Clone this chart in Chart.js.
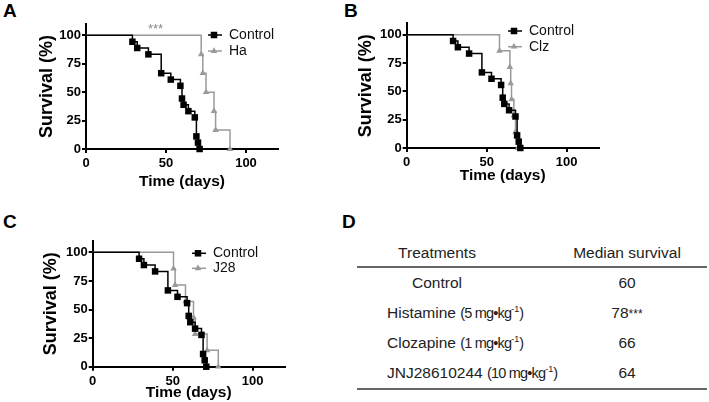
<!DOCTYPE html>
<html>
<head>
<meta charset="utf-8">
<script src="https://cdn.jsdelivr.net/npm/chart.js@4.4.0/dist/chart.umd.min.js"></script>
<style>
  body { margin: 0; width: 709px; height: 402px; background: #fff; position: relative; overflow: hidden;
         font-family: 'Liberation Sans', Arial, sans-serif; }
  .letter { position: absolute; font-weight: bold; font-size: 19px; line-height: 19px; color: #000; }
  .box { position: absolute; }
  #sig { position: absolute; left: 148px; top: 21px; font-size: 13px; color: #888; }
  #table-d { position: absolute; left: 357px; top: 240px; width: 350px; border-collapse: collapse;
             table-layout: fixed; white-space: nowrap; font-size: 15.5px; color: #222; }
  #table-d th { font-weight: normal; height: 26px; text-align: center; border-bottom: 2px solid #666; padding: 0; }
  #table-d td { height: 30px; text-align: center; padding: 0; }
  #table-d tr:last-child td { border-bottom: 2px solid #666; }
  #table-d .dose { font-size: 14.5px; letter-spacing: -0.8px; }
  #table-d sup { font-size: 9px; letter-spacing: 0; }
</style>
</head>
<body>
<div class="letter" style="left:3px; top:1px;">A</div>
<div class="letter" style="left:344px; top:1px;">B</div>
<div class="letter" style="left:3px; top:212px;">C</div>
<div class="letter" style="left:342px; top:212px;">D</div>

<div class="box" style="left:20px; top:10px; width:275px; height:185px;"><canvas id="chart-a"></canvas></div>
<div class="box" style="left:340px; top:10px; width:275px; height:180px;"><canvas id="chart-b"></canvas></div>
<div class="box" style="left:20px; top:225px; width:275px; height:177px;"><canvas id="chart-c"></canvas></div>
<div id="sig">***</div>

<table id="table-d">
  <colgroup><col style="width:160px;"><col style="width:190px;"></colgroup>
  <thead><tr><th>Treatments</th><th style="padding-left:30px;">Median survival</th></tr></thead>
  <tbody id="table-body"></tbody>
</table>

<script>
// Kaplan-Meier steps: event times (days) and survival (%) after each event
const controlTimes = [29, 32, 39, 47, 53, 59, 60, 61, 64, 68, 69, 70, 71];
const controlSurvival = [94.4, 88.9, 83.3, 66.7, 61.1, 55.6, 44.4, 38.9, 33.3, 27.8, 11.1, 5.6, 0];

const haTimes = [72, 73, 75, 80, 81, 90];
const haSurvival = [83.3, 66.7, 50, 33.3, 16.7, 0];

const clzTimes = [58, 64.5, 65, 65.5, 67, 68, 69.5];
const clzSurvival = [85.7, 71.4, 57.1, 42.9, 28.6, 14.3, 0];

const j28Times = [50.5, 51.5, 58, 63, 64, 71.5, 78.5];
const j28Survival = [85.7, 71.4, 57.1, 42.9, 28.6, 14.3, 0];

const xTickValues = [0, 50, 100];
const yTickValues = [0, 25, 50, 75, 100];

// table D
const treatmentNames = ['Control', 'Histamine', 'Clozapine', 'JNJ28610244'];
const treatmentDoses = ['', '5', '1', '10'];
const medianSurvival = ['60', '78', '66', '64'];
const medianSignificance = ['', '***', '', ''];

Chart.defaults.font.family = "'Liberation Sans', Arial, sans-serif";
Chart.defaults.color = '#000';

function kmPoints(times, values) {
    return [{ x: 0, y: 100 }].concat(times.map((t, i) => ({ x: t, y: values[i] })));
}

function drawMarker(ctx, style, r, x, y) {
    ctx.beginPath();
    if (style === 'rect') {
        const s = Math.SQRT1_2 * r;
        ctx.rect(x - s, y - s, 2 * s, 2 * s);
    } else {
        ctx.moveTo(x, y - r);
        ctx.lineTo(x + r * 0.866, y + r * 0.5);
        ctx.lineTo(x - r * 0.866, y + r * 0.5);
        ctx.closePath();
    }
    ctx.fill();
}

// legend drawn inside the plot, GraphPad style (line + marker + label)
const inlineLegend = {
    id: 'inlineLegend',
    afterDatasetsDraw(chart, args, opts) {
        const ctx = chart.ctx;
        ctx.save();
        ctx.font = "14px 'Liberation Sans', Arial, sans-serif";
        ctx.textBaseline = 'middle';
        chart.data.datasets.forEach((ds, i) => {
            const y = opts.y + i * opts.gap;
            ctx.strokeStyle = ds.borderColor;
            ctx.lineWidth = ds.borderWidth;
            ctx.beginPath();
            ctx.moveTo(opts.x, y);
            ctx.lineTo(opts.x + 14, y);
            ctx.stroke();
            ctx.fillStyle = ds.borderColor;
            drawMarker(ctx, ds.pointStyle, ds.markerSize, opts.x + 6, y);
            ctx.fillStyle = '#111';
            ctx.fillText(ds.label, opts.x + 21, y);
        });
        ctx.restore();
    }
};

function survivalDataset(label, times, values, color, style, size) {
    return {
        label: label,
        data: kmPoints(times, values),
        borderColor: color,
        backgroundColor: color,
        borderWidth: 1.5,
        stepped: true,
        pointStyle: style,
        markerSize: size,
        pointRadius: ctx => ctx.dataIndex === 0 ? 0 : size,
        pointBorderWidth: 0,
        clip: false
    };
}

function makeSurvivalChart(id, treatLabel, treatTimes, treatValues, layout) {
    const ctx = document.getElementById(id).getContext('2d');
    return new Chart(ctx, {
        type: 'line',
        data: {
            datasets: [
                survivalDataset('Control', controlTimes, controlSurvival, '#000', 'rect', 4.6),
                survivalDataset(treatLabel, treatTimes, treatValues, '#9a9a9a', 'triangle', 3.8)
            ]
        },
        options: {
            responsive: true,
            maintainAspectRatio: false,
            animation: false,
            layout: { padding: { top: layout.padTop, right: layout.padRight, left: 0, bottom: 0 } },
            plugins: {
                legend: { display: false },
                tooltip: { enabled: false },
                inlineLegend: layout.legend
            },
            scales: {
                x: {
                    type: 'linear',
                    min: 0,
                    max: 120,
                    afterBuildTicks: scale => {
                        scale.ticks = xTickValues.map(v => ({ value: v }));
                    },
                    afterFit: scale => { scale.height = layout.xHeight; },
                    grid: { drawOnChartArea: false, color: '#000', lineWidth: 2, tickLength: 4 },
                    border: { color: '#000', width: 2 },
                    ticks: { font: { size: 13, weight: 'bold' }, padding: 2.5, maxRotation: 0 },
                    title: {
                        display: true,
                        text: 'Time (days)',
                        font: { size: 15.5, weight: 'bold' },
                        padding: { top: 0, bottom: layout.xTitlePad }
                    }
                },
                y: {
                    min: 0,
                    max: 110,
                    afterBuildTicks: scale => {
                        scale.ticks = yTickValues.map(v => ({ value: v }));
                    },
                    afterFit: scale => { scale.width = layout.yWidth; },
                    grid: { drawOnChartArea: false, color: '#000', lineWidth: 2, tickLength: 4 },
                    border: { color: '#000', width: 2 },
                    ticks: { font: { size: 13, weight: 'bold' }, padding: 1 },
                    title: {
                        display: true,
                        text: 'Survival (%)',
                        font: { size: 18, weight: 'bold' },
                        padding: { top: layout.yTitlePad, bottom: 0 }
                    }
                }
            }
        },
        plugins: [inlineLegend]
    });
}

makeSurvivalChart('chart-a', 'Ha', haTimes, haSurvival, {
    padTop: 14, padRight: 17, xHeight: 46, yWidth: 66, xTitlePad: 4, yTitlePad: 16,
    legend: { x: 188, y: 25, gap: 16 }
});
makeSurvivalChart('chart-b', 'Clz', clzTimes, clzSurvival, {
    padTop: 13.3, padRight: 16.3, xHeight: 42, yWidth: 66.7, xTitlePad: 4.7, yTitlePad: 15.5,
    legend: { x: 168, y: 21, gap: 15.7 }
});
makeSurvivalChart('chart-c', 'J28', j28Times, j28Survival, {
    padTop: 15.9, padRight: 10.3, xHeight: 35.3, yWidth: 72.7, xTitlePad: 0, yTitlePad: 20.5,
    legend: { x: 172, y: 28.3, gap: 15 }
});

// table D
const tbody = document.getElementById('table-body');
treatmentNames.forEach((name, i) => {
    const tr = document.createElement('tr');
    const nameCell = document.createElement('td');
    nameCell.innerHTML = treatmentDoses[i]
        ? `${name} <span class="dose">(${treatmentDoses[i]}&nbsp;mg•kg<sup>-1</sup>)</span>`
        : name;
    if (treatmentDoses[i]) nameCell.style.paddingLeft = '30px';
    const medCell = document.createElement('td');
    medCell.style.paddingLeft = '30px';
    medCell.innerHTML = medianSurvival[i] + (medianSignificance[i] ? `<span style="font-size:12px;">${medianSignificance[i]}</span>` : '');
    tr.appendChild(nameCell);
    tr.appendChild(medCell);
    tbody.appendChild(tr);
});
</script>
</body>
</html>
